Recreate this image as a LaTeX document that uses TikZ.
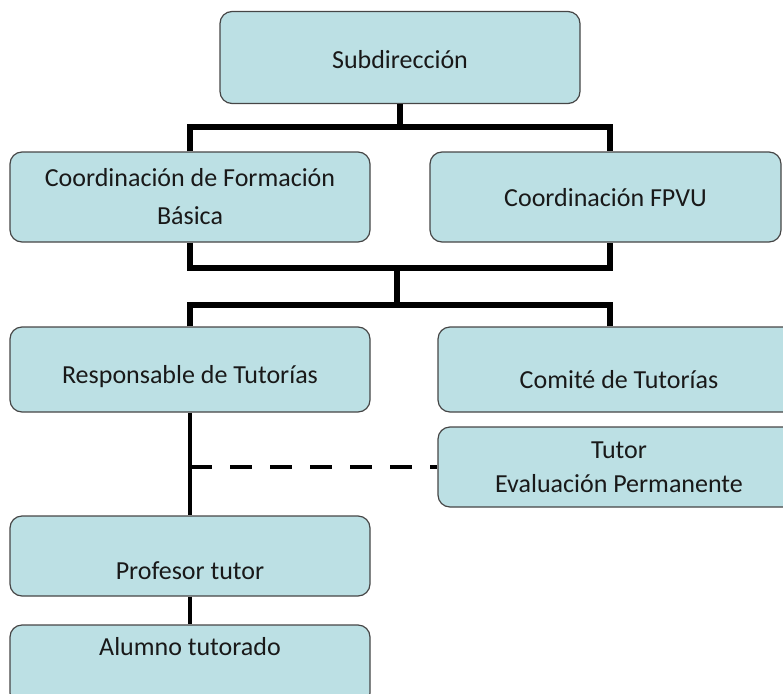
\documentclass[tikz,border=0pt]{standalone}
\usepackage{fontspec}
\setmainfont{Carlito}
\definecolor{boxfill}{RGB}{188,224,228}
\definecolor{boxline}{RGB}{70,70,70}

\begin{document}
\begin{tikzpicture}[x = 1pt, y = -1pt,
                box/.style = {draw = boxline, line width = 1.2pt, fill = boxfill, rounded corners = 12pt, inner sep = 0pt, text = black!90, font = \fontsize{26}{38}\selectfont},
                onebox/.style = {box, text height = 18pt, text depth = 6pt},
                bar/.style = {black, line width = 6pt},
                link/.style = {black, line width = 4.5pt}]
                \clip (0,0) rectangle (783,693);
                \node[onebox, minimum width = 360pt, minimum height = 92pt] (sub) at (400,57.5) {\raisebox{-4.5pt}{Subdirección}};
                \node[box, align = center, minimum width = 360pt, minimum height = 90pt] (cfb) at (190,197) {Coordinación de Formación\\Básica};
                \node[onebox, minimum width = 351pt, minimum height = 90pt] (fpvu) at (605.5,197) {\raisebox{-3pt}{Coordinación FPVU}};
                \node[onebox, minimum width = 360pt, minimum height = 85pt] (resp) at (190,369.5) {\raisebox{-7.5pt}{Responsable de Tutorías}};
                \node[onebox, minimum width = 362pt, minimum height = 85pt] (comite) at (619,369.5) {\raisebox{-12.5pt}{Comité de Tutorías}};
                \node[box, align = center, font = \fontsize{26}{34}\selectfont, minimum width = 362pt, minimum height = 80pt] (tutor) at (619,467) {Tutor\\Evaluación Permanente};
                \node[onebox, minimum width = 360pt, minimum height = 80pt] (prof) at (190,556) {\raisebox{-17pt}{Profesor tutor}};
                \node[onebox, minimum width = 360pt, minimum height = 80pt] (alum) at (190,665) {\raisebox{16pt}{Alumno tutorado}};
                \coordinate (j1) at (400,127);
                \coordinate (j2) at (397,268);
                \coordinate (j3) at (397,305);
                \draw[bar] (sub.south) -- (j1);
                \draw[bar] (cfb.north) |- (j1) -| ([xshift = 4.5pt]fpvu.north);
                \draw[bar] (cfb.south) |- (j2) -| ([xshift = 4.5pt]fpvu.south);
                \draw[bar] (j2) -- (j3);
                \draw[bar] (resp.north) |- (j3) -| ([xshift = -9pt]comite.north);
                \draw[link] (resp.south) -- (prof.north);
                \draw[link, dash pattern = on 22pt off 18pt] (resp.south |- tutor.west) -- (tutor.west);
                \draw[link] (prof.south) -- (alum.north);
            \end{tikzpicture}
\end{document}
